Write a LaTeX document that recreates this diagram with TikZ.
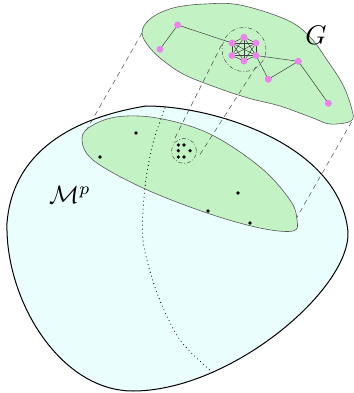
\documentclass[tikz,border=0pt]{standalone}
\definecolor{leafgreen}{RGB}{195,243,197}
\definecolor{manifill}{RGB}{235,254,254}
\definecolor{vnode}{RGB}{238,130,238}
\tikzset{
  gnode/.style={circle, fill=vnode, inner sep=0pt, minimum size=6.5pt},
  bdot/.style={circle, fill=black, inner sep=0pt, minimum size=3.6pt},
  gedge/.style={draw=black!75, line width=0.5pt},
  proj/.style={draw=black!70, line width=0.5pt, dash pattern=on 5pt off 4pt},
  ring/.style={circle, draw=black!70, line width=0.5pt, inner sep=0pt, dash pattern=on 4pt off 2pt on 0.8pt off 2pt},
  leaf/.style={fill=leafgreen, draw=black!65, line width=0.6pt},
  dotline/.style={draw=black, line width=1.1pt, line cap=round, dash pattern=on 0pt off 4pt},
}
\begin{document}
\begin{tikzpicture}[x=1pt,y=-1pt]
\useasboundingbox (0,0) rectangle (353,393);
% manifold
\draw[fill=manifill, line width=1pt] (7,223)
  .. controls (12,160) and (60,120) .. (146,106)
  .. controls (215,106) and (340,145) .. (348,232)
  .. controls (350,290) and (230,391) .. (133,391)
  .. controls (60,391) and (5,300) .. cycle;
% lower leaf
\draw[leaf] plot[smooth cycle, tension=0.6] coordinates {
 (82,138) (93,125) (120,116.5) (160,118.5) (210,134) (260,167) (290,200) (297,220)
 (293,231) (260,228) (207,213) (143,188) (93,160)};
% dotted geodesic
\draw[dotline] plot[smooth] coordinates {(165,108) (153,143) (145,187) (143,240) (157,293) (180,340) (213,373)};
% dots
\node[bdot] (d1) at (136,133) {};
\node[bdot] (d2) at (100,157) {};
\node[bdot] (d3) at (238,193) {};
\node[bdot] (d4) at (208,211) {};
\node[bdot] (d5) at (250,223) {};
\node[bdot] (c1) at (178.3,145) {};
\node[bdot] (c2) at (184,145) {};
\node[bdot] (c3) at (178.3,150.7) {};
\node[bdot] (c4) at (190,150.7) {};
\node[bdot] (c5) at (178.3,157) {};
\node[bdot] (c6) at (184,157) {};
\node[ring, minimum size=25pt] (ringM) at (184,151) {};
% upper leaf
\draw[leaf] plot[smooth cycle, tension=0.6] coordinates {
 (142,33) (150,19) (173,8) (205,4) (240,5) (287,20) (310,37) (327,60) (343,85) (352,110)
 (351,121) (330,124) (313,118) (280,106) (248,98) (215,87) (185,75) (165,62) (150,48)};
% graph nodes
\node[gnode] (g1) at (177.7,25) {};
\node[gnode] (g2) at (160,49.3) {};
\node[gnode] (h1) at (244,37.3) {};
\node[gnode] (h2) at (232,43) {};
\node[gnode] (h3) at (256,43) {};
\node[gnode] (h4) at (232,55.5) {};
\node[gnode] (h5) at (256,55.5) {};
\node[gnode] (h6) at (244,61) {};
\node[gnode] (g3) at (268.3,79.3) {};
\node[gnode] (g4) at (298.3,61.3) {};
\node[gnode] (g5) at (328.3,103.3) {};
\draw[gedge] (g2.center) -- (g1.center) -- (h2.center);
\foreach \a/\b in {h1/h2,h1/h3,h1/h4,h1/h5,h1/h6,h2/h3,h2/h4,h2/h5,h2/h6,h3/h4,h3/h5,h3/h6,h4/h5,h4/h6,h5/h6}
  \draw[gedge] (\a.center) -- (\b.center);
\draw[gedge] (h5.center) -- (g4.center) -- (g5.center);
\draw[gedge] (h5.center) -- (g3.center) -- (g4.center);
\foreach \n in {g1,g2,h1,h2,h3,h4,h5,h6,g3,g4,g5}
  \fill[vnode] (\n) circle (3.4pt);
\node[ring, minimum size=44pt] (ringG) at (244,49.5) {};
% projection lines
\coordinate (u1) at (142,33);
\coordinate (l1) at (86.5,130);
\coordinate (u2) at (221.5,45);
\coordinate (l2) at (173,142);
\coordinate (u3) at (256,67);
\coordinate (l3) at (199,156);
\coordinate (u4) at (351.5,122);
\coordinate (l4) at (296.5,218);
\draw[proj] (u1) -- (l1);
\draw[proj] (u2) -- (l2);
\draw[proj] (u3) -- (l3);
\draw[proj] (u4) -- (l4);
% labels
\node[scale=2.7] (lG) at (316,35) {$G$};
\node[scale=2.5] (lM) at (70,195) {$\mathcal{M}^p$};
\end{tikzpicture}
\end{document}
